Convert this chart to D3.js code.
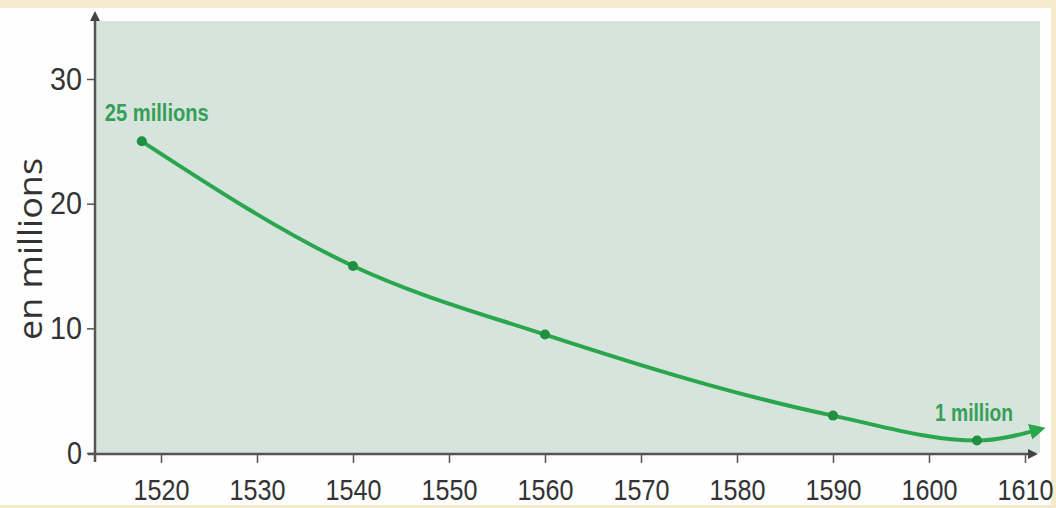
<!DOCTYPE html>
<html>
<head>
<meta charset="utf-8">
<script src="https://cdn.jsdelivr.net/npm/d3@7"></script>
<style>
  body { margin: 0; background: #f3ebcc; }
  svg { display: block; }
  .tick text { font-family: "Liberation Sans", Arial, sans-serif; fill: #333; }
</style>
</head>
<body>
<div id="chart"></div>
<script>
// population data (millions)
var years = [1518, 1540, 1560, 1590, 1605, 1611.5];
var values = [25, 15, 9.5, 3, 1, 1.9];
var marked = [0, 1, 2, 3, 4];   // points that get a dot
var yTicks = [0, 10, 20, 30];
var xTicks = [1520, 1530, 1540, 1550, 1560, 1570, 1580, 1590, 1600, 1610];
var labels = [
  { i: 0, text: "25 millions", dx: -37, dy: -20, w: 104 },
  { i: 4, text: "1 million", dx: -42, dy: -20, w: 78 }
];

var width = 1056, height = 508;
var svg = d3.select('#chart').append('svg')
    .attr('width', width)
    .attr('height', height);

// white card
svg.append('rect')
    .attr('x', 0).attr('y', 8)
    .attr('width', 1051).attr('height', 497)
    .attr('fill', '#fdfefd');

var x = d3.scaleLinear().domain([1520, 1610]).range([161, 1025]);
var y = d3.scaleLinear().domain([0, 30]).range([453, 79]);

// plot panel
svg.append('rect')
    .attr('x', 95).attr('y', 21)
    .attr('width', 945).attr('height', 432)
    .attr('fill', '#d6e4dd');

var defs = svg.append('defs');
defs.append('marker')
    .attr('id', 'ax')
    .attr('viewBox', '0 0 10 10')
    .attr('refX', 5).attr('refY', 5)
    .attr('markerWidth', 4).attr('markerHeight', 4)
    .attr('orient', 'auto')
    .append('path').attr('d', 'M0,0 L10,5 L0,10 z').attr('fill', '#444');
defs.append('marker')
    .attr('id', 'gr')
    .attr('viewBox', '0 0 10 10')
    .attr('refX', 6).attr('refY', 5)
    .attr('markerWidth', 4).attr('markerHeight', 4)
    .attr('orient', 'auto')
    .append('path').attr('d', 'M0,0 L10,5 L0,10 z').attr('fill', '#2aa64c');

// axes
var yAxis = d3.axisLeft(y).tickValues(yTicks).tickSize(8).tickPadding(5);
var gy = svg.append('g').attr('transform', 'translate(95,0)').call(yAxis);
gy.select('.domain').remove();
gy.selectAll('.tick line').attr('stroke', '#555').attr('stroke-width', 1.5);
gy.selectAll('.tick text')
    .style('font-size', '32px')
    .attr('textLength', function (d) { return d === 0 ? 15 : 32; })
    .attr('lengthAdjust', 'spacingAndGlyphs');

var xAxis = d3.axisBottom(x).tickValues(xTicks).tickFormat(d3.format('d')).tickSize(10).tickPadding(16);
var gx = svg.append('g').attr('transform', 'translate(0,453)').call(xAxis);
gx.select('.domain').remove();
gx.selectAll('.tick line').attr('stroke', '#555').attr('stroke-width', 1.5);
gx.selectAll('.tick text')
    .style('font-size', '30px')
    .attr('textLength', 56)
    .attr('lengthAdjust', 'spacingAndGlyphs');

svg.append('line')
    .attr('x1', 95).attr('y1', 462).attr('x2', 95).attr('y2', 16)
    .attr('stroke', '#555').attr('stroke-width', 2.5)
    .attr('marker-end', 'url(#ax)');
svg.append('line')
    .attr('x1', 88).attr('y1', 454).attr('x2', 1033).attr('y2', 454)
    .attr('stroke', '#555').attr('stroke-width', 2.5)
    .attr('marker-end', 'url(#ax)');

// y label
svg.append('text')
    .attr('transform', 'translate(42,249) rotate(-90)')
    .attr('text-anchor', 'middle')
    .style('font-family', '"Open Sans", sans-serif')
    .style('font-size', '33px')
    .style('fill', '#333')
    .attr('textLength', 182)
    .attr('lengthAdjust', 'spacingAndGlyphs')
    .text('en millions');

// curve
var pts = years.map(function (d, i) { return [x(d), y(values[i])]; });
var line = d3.line().curve(d3.curveMonotoneX);
svg.append('path')
    .attr('d', line(pts))
    .attr('fill', 'none')
    .attr('stroke', '#2aa64c')
    .attr('stroke-width', 4)
    .attr('marker-end', 'url(#gr)');

svg.selectAll('circle.pt')
    .data(marked)
    .enter()
    .append('circle')
    .attr('class', 'pt')
    .attr('cx', function (i) { return x(years[i]); })
    .attr('cy', function (i) { return y(values[i]); })
    .attr('r', 5)
    .attr('fill', '#1f8f40');

svg.selectAll('text.lab')
    .data(labels)
    .enter()
    .append('text')
    .attr('class', 'lab')
    .attr('x', function (d) { return x(years[d.i]) + d.dx; })
    .attr('y', function (d) { return y(values[d.i]) + d.dy; })
    .style('font-family', '"Liberation Sans", Arial, sans-serif')
    .style('font-weight', 'bold')
    .style('font-size', '24px')
    .style('fill', '#35a055')
    .attr('textLength', function (d) { return d.w; })
    .attr('lengthAdjust', 'spacingAndGlyphs')
    .text(function (d) { return d.text; });
</script>
</body>
</html>
